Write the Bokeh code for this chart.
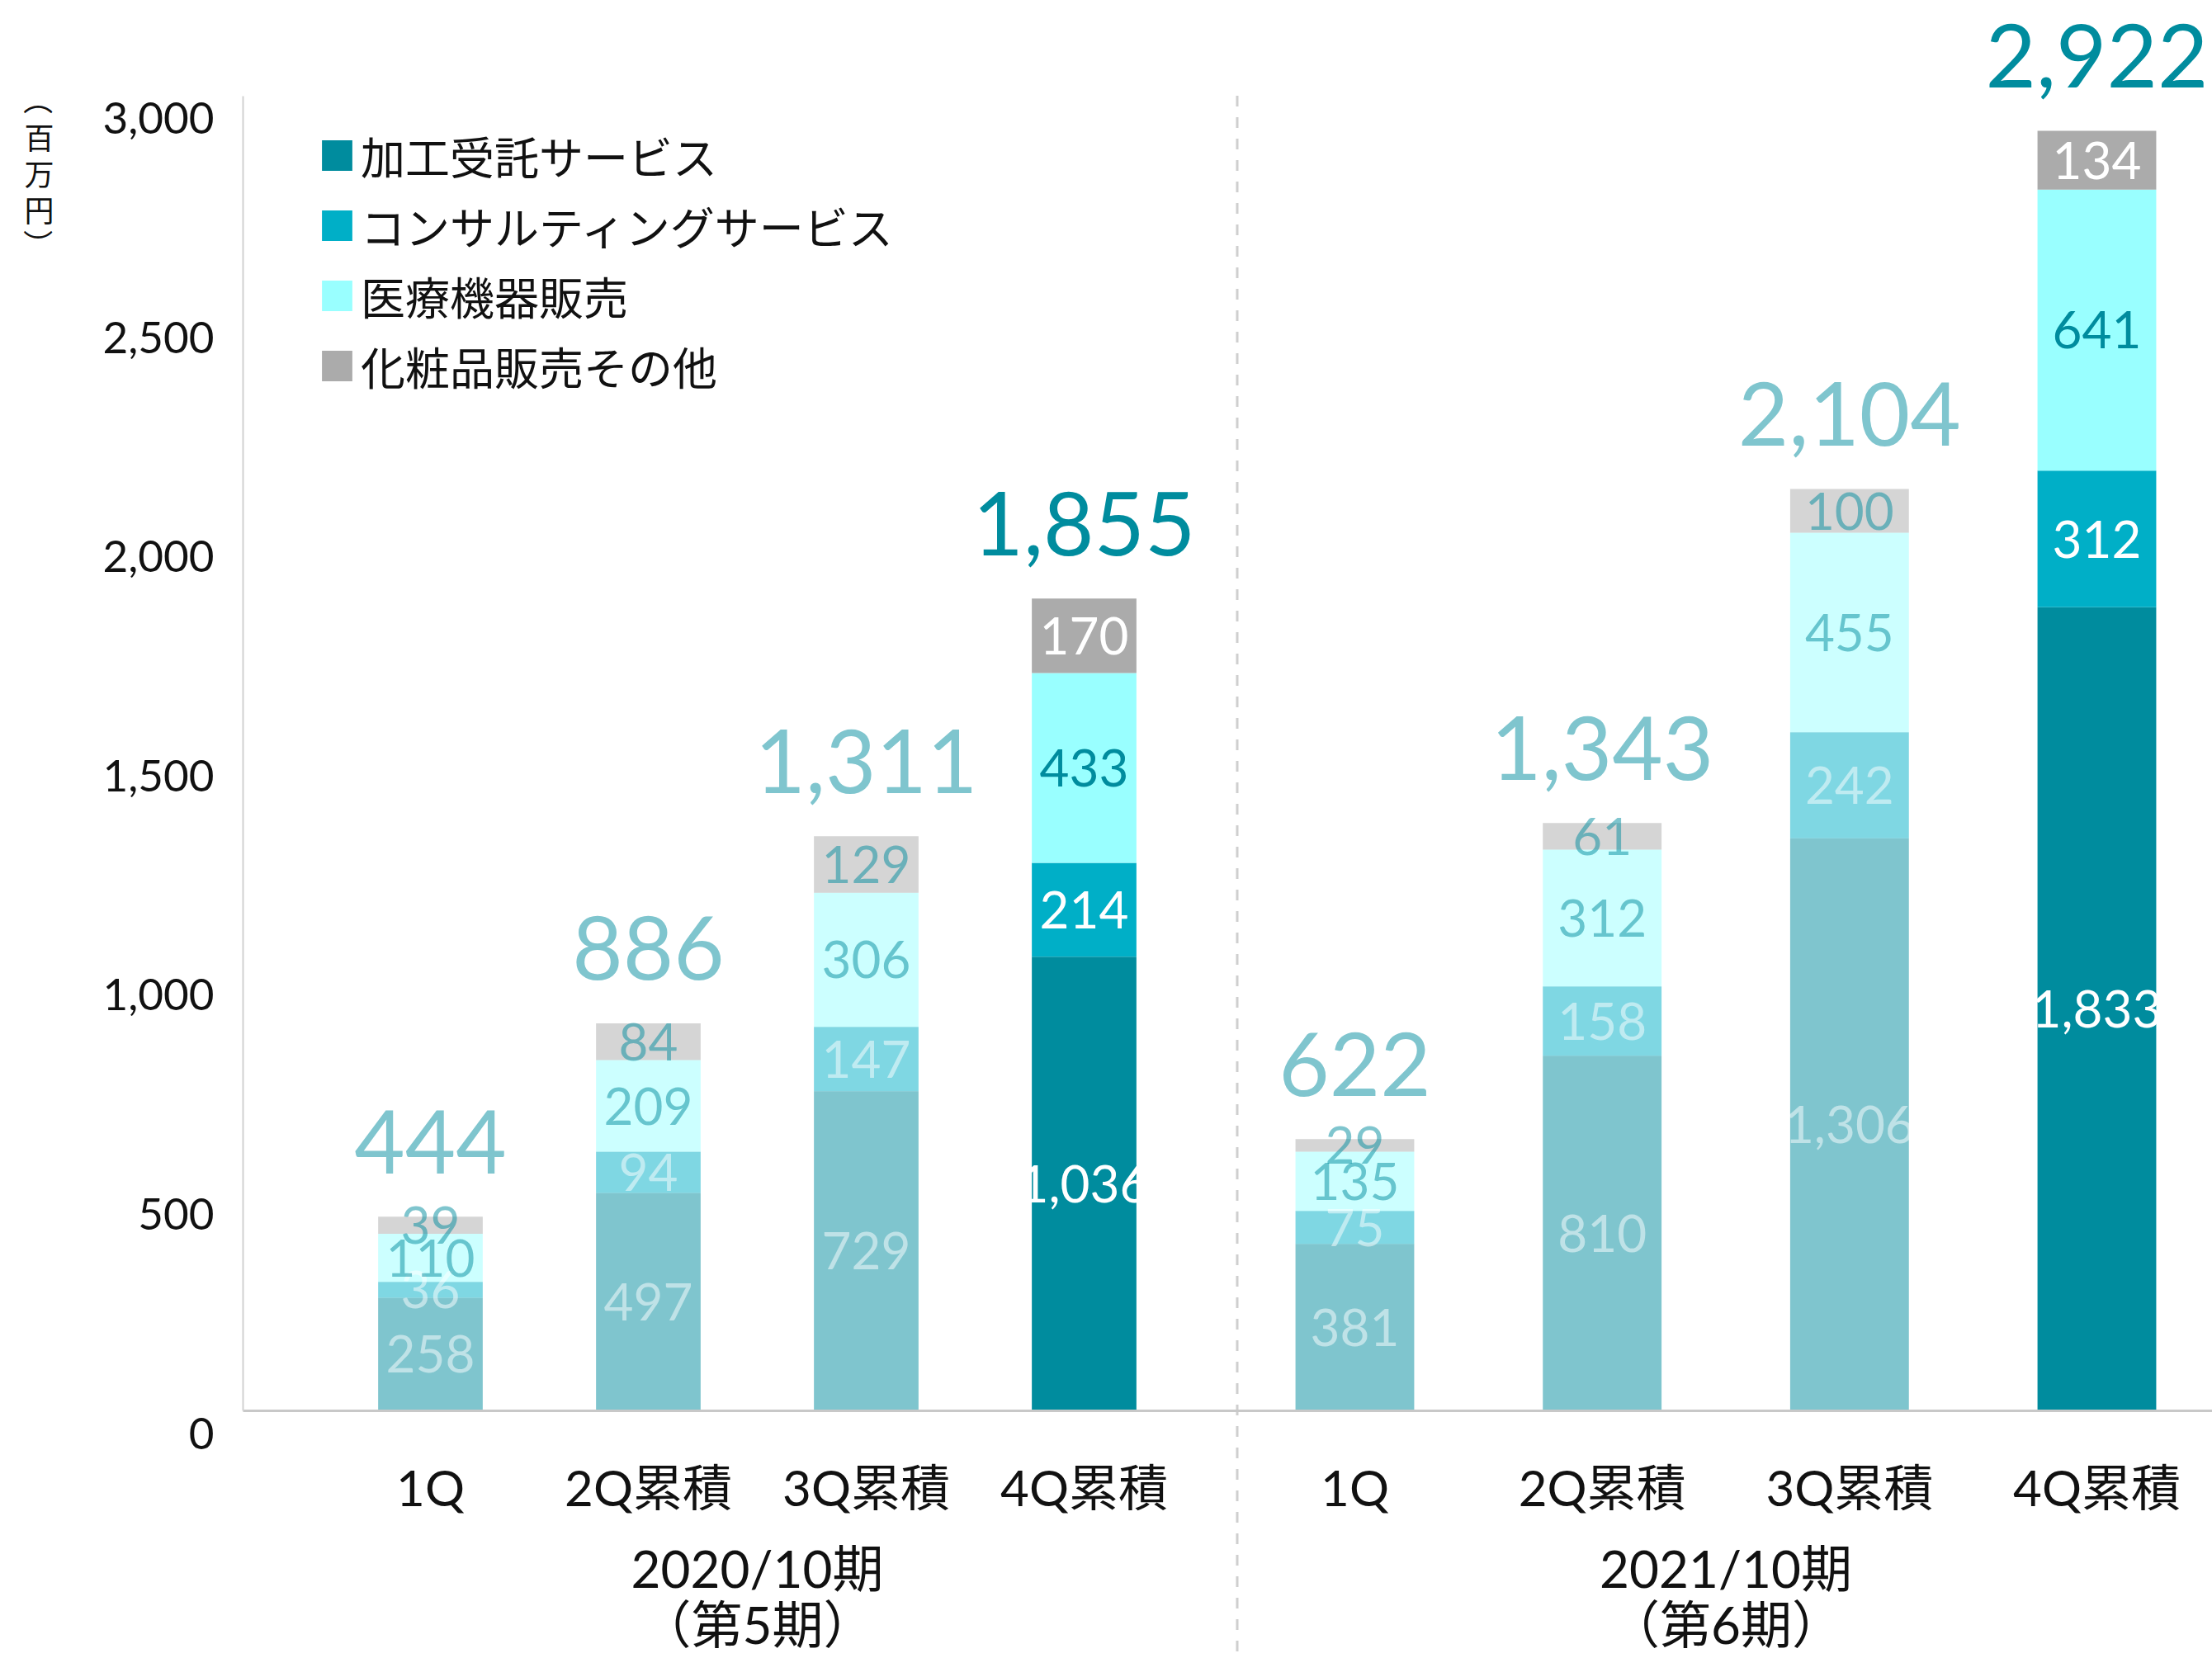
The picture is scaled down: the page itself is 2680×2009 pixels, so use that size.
import math
from bokeh.plotting import figure
from bokeh.models import (ColumnDataSource, Range1d, FixedTicker, Legend, LegendItem,
                          LinearAxis)
from bokeh.core.properties import value
from bokeh.embed import file_html
from bokeh.resources import INLINE

# ---------------- data ----------------
SERIES = ["加工受託サービス", "コンサルティングサービス", "医療機器販売", "化粧品販売その他"]
QUARTERS = ["1Q", "2Q累積", "3Q累積", "4Q累積"]
HIGHLIGHT = "4Q累積"
PERIOD_5 = ["2020/10期", "（第5期）"]
PERIOD_6 = ["2021/10期", "（第6期）"]

FY5_KAKOU = [258, 497, 729, 1036]
FY5_CONSUL = [36, 94, 147, 214]
FY5_IRYO = [110, 209, 306, 433]
FY5_KESHO = [39, 84, 129, 170]
FY5_TOTAL = [444, 886, 1311, 1855]

FY6_KAKOU = [381, 810, 1306, 1833]
FY6_CONSUL = [75, 158, 242, 312]
FY6_IRYO = [135, 312, 455, 641]
FY6_KESHO = [29, 61, 100, 134]
FY6_TOTAL = [622, 1343, 2104, 2922]

YTICKS = [0, 500, 1000, 1500, 2000, 2500, 3000]
YTICK_LABELS = ["0", "500", "1,000", "1,500", "2,000", "2,500", "3,000"]
UNIT_LABEL = ["（", "百\n万\n円", "）"]

# ---------------- style ----------------
COLORS = ["#008C9E", "#00AFC7", "#99FFFF", "#ABABAB"]
LABEL_HI = ["#FFFFFF", "#FFFFFF", "#008C9E", "#FFFFFF"]
LABEL_LO = ["#FFFFFF", "#FFFFFF", "#008C9E", "#008C9E"]
TEAL = "#008C9E"
FADE = 0.5
TXT = "#111111"
NUM_FONT = "Lato"
JP_FONT = "Lato, Noto Sans CJK JP"
CJK_FONT = "Noto Sans CJK JP"

# ---------------- layout (pixels) ----------------
W, H = 2680, 2005
BASE_PX = 1709            # pixel row of value 0
TOP_PX = 115.5            # pixel row of value 3000
Y_MAX = 3000
K = (BASE_PX - TOP_PX) / Y_MAX     # px per unit
Y_RANGE = (-(H - BASE_PX) / K, BASE_PX / K)
# group 1 (default x range): first bar at px 521, step 264 px
SX1, X1_0 = 264.0, 521.0
# group 2 (extra range): first bar at px 1641, step 299.67 px
SX2, X2_0 = 299.67, 1641.0
X1_RANGE = (-X1_0 / SX1, (W - X1_0) / SX1)
X2_RANGE = (-X2_0 / SX2, (W - X2_0) / SX2)
YAXIS_X = (294 - X1_0) / SX1
DIV_PX = 1498.5
DIV_X1 = (DIV_PX - X1_0) / SX1
DIV_X2 = (DIV_PX - X2_0) / SX2
BAR_W = 0.48

p = figure(width=W, height=H, x_range=Range1d(*X1_RANGE), y_range=Range1d(*Y_RANGE),
           output_backend="svg", toolbar_location=None, min_border=0,
           x_axis_location=None, y_axis_location=None,
           outline_line_color=None, background_fill_color="white",
           border_fill_color="white")
p.title.visible = False
p.extra_x_ranges = {"fy6": Range1d(*X2_RANGE)}
p.grid.visible = False

idx = list(range(len(QUARTERS)))
hi = [q == HIGHLIGHT for q in QUARTERS]


def draw_group(series_vals, totals, period, xr_name, ax_bounds):
    kw = {} if xr_name == "default" else {"x_range_name": xr_name}
    data = dict(x=idx, alpha=[1.0 if h else FADE for h in hi])
    for name, vals in zip(SERIES, series_vals):
        data[name] = vals
    rs = p.vbar_stack(SERIES, x="x", width=BAR_W, color=COLORS, fill_alpha="alpha",
                      line_color=None, source=ColumnDataSource(data), **kw)

    # segment labels centred in each segment
    lx, ly, lt, lc, la = [], [], [], [], []
    for i in idx:
        base = 0
        for k, vals in enumerate(series_vals):
            v = vals[i]
            lx.append(i)
            ly.append(base + v / 2)
            lt.append(f"{v:,}")
            lc.append(LABEL_HI[k] if hi[i] else LABEL_LO[k])
            la.append(1.0 if hi[i] else FADE)
            base += v
    p.text(x="x", y="y", text="t", text_color="c", text_alpha="a",
           source=ColumnDataSource(dict(x=lx, y=ly, t=lt, c=lc, a=la)),
           text_font=value(NUM_FONT), text_font_size=value("62px"),
           text_align="center", text_baseline="middle", **kw)

    # totals above each stack
    tops = [sum(vals[i] for vals in series_vals) for i in idx]
    p.text(x="x", y="y", text="t", text_color=TEAL, text_alpha="a",
           source=ColumnDataSource(dict(x=idx, y=tops, t=[f"{t:,}" for t in totals],
                                        a=[1.0 if h else FADE for h in hi])),
           text_font=value(NUM_FONT), text_font_size=value("106px"),
           text_align="center", text_baseline="middle", y_offset=-91, **kw)

    # category axis at value 0
    ax = LinearAxis(fixed_location=0, bounds=ax_bounds, ticker=FixedTicker(ticks=idx),
                    major_label_overrides={i: q for i, q in enumerate(QUARTERS)}, **kw)
    ax.major_tick_line_color = None
    ax.minor_tick_line_color = None
    ax.axis_line_color = "#c8c8c8"
    ax.axis_line_width = 3
    ax.major_label_standoff = 50
    ax.major_label_text_font = JP_FONT
    ax.major_label_text_font_size = "60px"
    ax.major_label_text_color = TXT
    p.add_layout(ax, "below")

    # period label centred under the group
    mid = sum(idx) / len(idx)
    for line, off in zip(period, (190, 258)):
        p.text(x=[mid], y=[0], text=[line], y_offset=off, text_align="center",
               text_baseline="middle", text_font=value(JP_FONT),
               text_font_size=value("62px"), text_color=TXT, **kw)
    return rs


rs5 = draw_group([FY5_KAKOU, FY5_CONSUL, FY5_IRYO, FY5_KESHO], FY5_TOTAL, PERIOD_5,
                 "default", (YAXIS_X, DIV_X1))
draw_group([FY6_KAKOU, FY6_CONSUL, FY6_IRYO, FY6_KESHO], FY6_TOTAL, PERIOD_6,
           "fy6", (DIV_X2, X2_RANGE[1]))

# y axis (line only); labels sit slightly below their ticks as in the original
ay = LinearAxis(fixed_location=YAXIS_X, bounds=(0, Y_MAX), ticker=FixedTicker(ticks=YTICKS))
ay.axis_line_color = "#d2d2d2"
ay.axis_line_width = 2
ay.major_tick_line_color = None
ay.minor_tick_line_color = None
ay.major_label_text_color = None
p.add_layout(ay, "left")
p.text(x=[YAXIS_X] * len(YTICKS), y=YTICKS, text=YTICK_LABELS,
       x_offset=-35, y_offset=27, text_align="right", text_baseline="middle",
       text_font=value(NUM_FONT), text_font_size=value("53px"), text_color=TXT)

# vertical unit label (百万円)
UNIT_X = YAXIS_X + (47 - 294) / SX1
for txt, off_px, ang in zip(UNIT_LABEL, (5, 93, 180), (-math.pi / 2, 0, -math.pi / 2)):
    p.text(x=[UNIT_X], y=[Y_MAX - off_px / K], text=[txt], angle=ang,
           text_align="center", text_baseline="middle",
           text_font=value(CJK_FONT), text_font_size=value("36px"), text_color=TXT,
           text_line_height=0.85)

# dashed divider between the two fiscal years
p.segment(x0=[DIV_X1], y0=[Y_MAX], x1=[DIV_X1], y1=[Y_RANGE[0]],
          line_color="#cfcfcf", line_width=3, line_dash="13 13")

# legend
items = [LegendItem(label=name, renderers=[r], index=QUARTERS.index(HIGHLIGHT))
         for name, r in zip(SERIES, rs5)]
legend = Legend(items=items, location=(385, H - 483),
                glyph_width=46, glyph_height=46, label_standoff=6,
                label_height=80, spacing=5, padding=0, margin=0,
                border_line_color=None, background_fill_alpha=0,
                label_text_font=CJK_FONT, label_text_font_size="54px",
                label_text_color=TXT)
p.add_layout(legend)

open("out.html", "w").write(file_html(p, INLINE))
